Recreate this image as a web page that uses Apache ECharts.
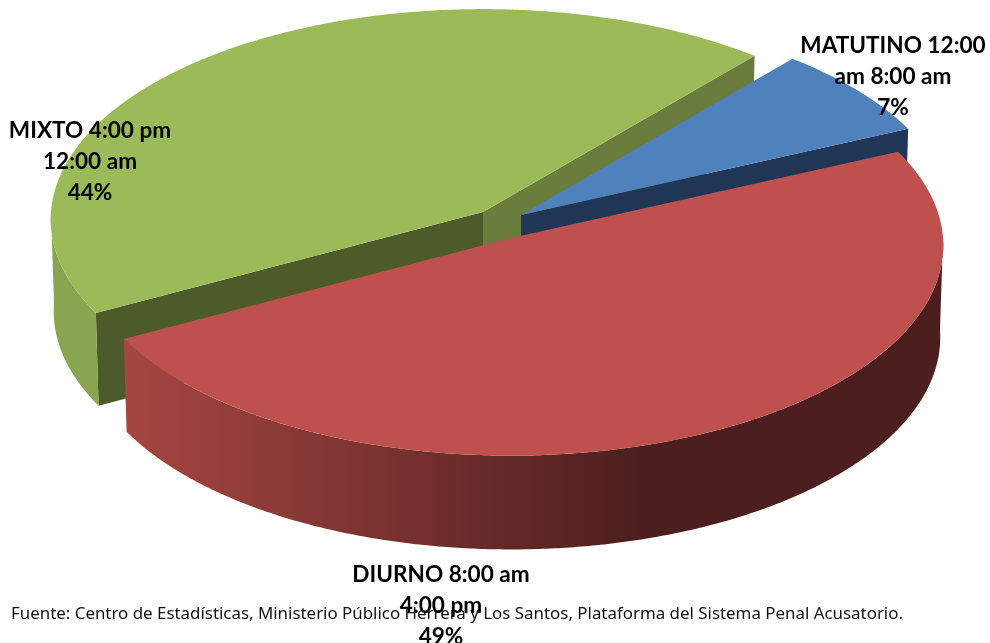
<!DOCTYPE html>
<html>
<head>
<meta charset="utf-8">
<script src="https://cdn.jsdelivr.net/npm/echarts@6/dist/echarts.min.js"></script>
<style>
  html, body { margin: 0; padding: 0; background: #fff; }
  #chart { width: 990px; height: 643px; }
</style>
</head>
<body>
<div id="chart"></div>
<script>
// slices, listed back to front so they paint in the right order
const sliceNames = ['MIXTO 4:00 pm\n12:00 am', 'MATUTINO 12:00\nam 8:00 am', 'DIURNO 8:00 am\n4:00 pm'];
const sliceValues = [44, 7, 49];
const sourceNote = 'Fuente: Centro de Estadísticas, Ministerio Público Herrera y Los Santos, Plataforma del Sistema Penal Acusatorio.';

// look of each slice
const topColors = ['#9BBB59', '#4F81BD', '#BE504D'];
const startCutColors = ['#4D5A2A', '#1F3656', '#1F3656'];
const endCutColors = ['#6A7D3C', '#1F3656', '#1F3656'];
const rimFills = ['#8AA550', '#1F3656', null];
const apexes = [[483, 212], [521, 215], [511, 238]];
const labelCenters = [[90, 162], [893, 77], [441, 606]];

const startAngle = 151.8; // degrees, clockwise from the right, 0-180 faces the viewer
const radiusX = 432;
const radiusY = 210;
const perspective = 0.035;
const depth = 92;
const bottomShrink = 0.993;

// dark side of the red wall, in page pixels
rimFills[2] = new echarts.graphic.LinearGradient(125, 0, 943, 0, [
  { offset: 0, color: '#A64642' },
  { offset: 0.63, color: '#4C1F1E' },
  { offset: 1, color: '#4C1F1E' }
], true);

// circle point at angle deg -> screen, level 0 is the top face, 1 the bottom one
function project(apex, deg, r, level) {
  const a = deg * Math.PI / 180;
  const x = Math.cos(a) * r, y = Math.sin(a) * r;
  const w = 1 - perspective * y;
  const shrink = level ? bottomShrink : 1;
  return [
    apex[0] + radiusX * x / w * shrink,
    apex[1] + radiusY * y / w * shrink + (level ? depth / w : 0)
  ];
}

function arcPoints(apex, from, to, level) {
  const pts = [];
  const steps = Math.max(2, Math.ceil((to - from) * 2));
  for (let i = 0; i <= steps; i++) {
    pts.push(project(apex, from + (to - from) * i / steps, 1, level));
  }
  return pts;
}

function poly(points, fill) {
  return { type: 'polygon', shape: { points: points }, style: { fill: fill } };
}

function cutFace(apex, deg, fill) {
  return poly([
    project(apex, deg, 0, 0), project(apex, deg, 1, 0),
    project(apex, deg, 1, 1), project(apex, deg, 0, 1)
  ], fill);
}

const total = sliceValues.reduce((a, b) => a + b, 0);
let running = startAngle;
const sliceRanges = sliceValues.map(v => {
  const from = running;
  running += v / total * 360;
  return [from, running];
});

function renderSlice(params, api) {
  const i = params.dataIndex;
  const apex = apexes[i];
  const [from, to] = sliceRanges[i];
  const children = [];

  // cut faces, only when they turn to the viewer
  if (Math.cos(to * Math.PI / 180) > 0) children.push(cutFace(apex, to, endCutColors[i]));
  if (-Math.cos(from * Math.PI / 180) > 0) children.push(cutFace(apex, from, startCutColors[i]));

  // outer wall, front half of the circle only (angles run past 360)
  [0, 360].forEach(turn => {
    const wallFrom = Math.max(from, turn), wallTo = Math.min(to, turn + 180);
    if (wallTo > wallFrom) {
      const topEdge = arcPoints(apex, wallFrom, wallTo, 0);
      const bottomEdge = arcPoints(apex, wallFrom, wallTo, 1).reverse();
      children.push(poly(topEdge.concat(bottomEdge), rimFills[i]));
    }
  });

  // top face
  children.push(poly([project(apex, from, 0, 0)].concat(arcPoints(apex, from, to, 0)), topColors[i]));

  children.push({
    type: 'text',
    z2: 100,
    style: {
      x: labelCenters[i][0],
      y: labelCenters[i][1],
      text: sliceNames[i] + '\n' + api.value(0) + '%',
      fill: '#000',
      font: 'bold 22.6px Lato',
      lineHeight: 31,
      align: 'center',
      verticalAlign: 'middle'
    }
  });
  return { type: 'group', children: children };
}

const chart = echarts.init(document.getElementById('chart'));
chart.setOption({
  animation: false,
  backgroundColor: '#fff',
  graphic: [{
    type: 'text',
    left: 11,
    top: 606,
    z: 10,
    style: { text: sourceNote, fill: '#111', font: '16.9px "Noto Sans"' }
  }],
  series: [{
    type: 'custom',
    coordinateSystem: 'none',
    renderItem: renderSlice,
    data: sliceValues.map(v => [v])
  }]
});
</script>
</body>
</html>
